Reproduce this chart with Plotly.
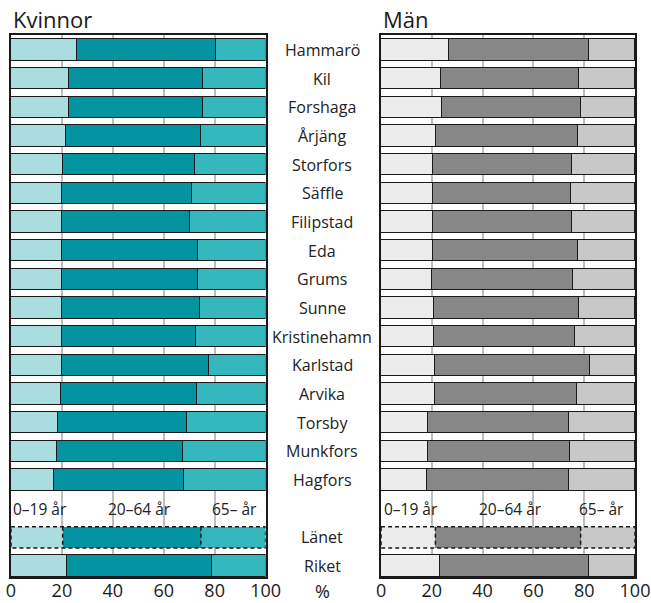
import plotly.graph_objects as go

# ---------------- data ----------------
categories = ["Hammarö", "Kil", "Forshaga", "Årjäng", "Storfors", "Säffle", "Filipstad",
              "Eda", "Grums", "Sunne", "Kristinehamn", "Karlstad", "Arvika", "Torsby",
              "Munkfors", "Hagfors", "Länet", "Riket"]
age_groups = ["0–19 år", "20–64 år", "65– år"]

# cumulative boundaries (share 0–19, share up to 64)
kv_0_19 = [26.0, 22.8, 22.6, 21.5, 20.3, 20.2, 20.2, 20.1, 20.1, 19.9, 19.9, 19.9, 19.7,
           18.5, 18.2, 16.9, 20.3, 22.0]
kv_upto64 = [80.4, 75.5, 75.3, 74.5, 72.1, 71.2, 70.4, 73.4, 73.3, 74.4, 72.8, 77.9, 73.1,
             69.1, 67.7, 68.1, 74.6, 78.8]
man_0_19 = [26.8, 23.8, 24.2, 21.8, 20.6, 20.4, 20.5, 20.3, 20.1, 20.7, 20.9, 21.4, 21.4,
            18.4, 18.4, 18.0, 21.4, 23.3]
man_upto64 = [82.0, 78.0, 78.7, 77.7, 75.1, 74.9, 75.2, 77.7, 75.5, 78.0, 76.4, 82.2, 77.3,
              74.0, 74.4, 74.1, 78.6, 82.0]

tick_vals = [0, 20, 40, 60, 80, 100]

# ---------------- styling ----------------
FONT = "Open Sans"
kv_colors = ["#aadde0", "#0494a1", "#34b8bd"]
man_colors = ["#ececec", "#878787", "#c8c8c8"]
BAR_W = 0.74
# row positions: municipalities 0..15, legend row 16, Länet 17, Riket 18
rows = list(range(16)) + [17, 18]
lanet_idx = categories.index("Länet")

fig = go.Figure()


def add_panel(lo, mid, colors, xa, ya):
    young = lo
    work = [m - l for m, l in zip(mid, lo)]
    old = [100 - m for m in mid]
    lw = [1.5] * len(categories)
    lw[lanet_idx] = 0
    for name, vals, col in zip(age_groups, [young, work, old], colors):
        fig.add_trace(go.Bar(
            y=rows, x=vals, orientation="h", name=name, width=BAR_W,
            marker=dict(color=col, line=dict(color="#1a1a1a", width=lw)),
            xaxis=xa, yaxis=ya, showlegend=False, hoverinfo="skip"))
    # dashed outline for Länet
    yc = rows[lanet_idx]
    y0, y1 = yc - BAR_W / 2, yc + BAR_W / 2
    xs = [0, 100, 100, 0, 0, None, lo[lanet_idx], lo[lanet_idx], None,
          mid[lanet_idx], mid[lanet_idx]]
    ys = [y0, y0, y1, y1, y0, None, y0, y1, None, y0, y1]
    fig.add_trace(go.Scatter(x=xs, y=ys, mode="lines", xaxis=xa, yaxis=ya,
                             line=dict(color="#1a1a1a", width=1.5, dash="4px,3px"),
                             showlegend=False, hoverinfo="skip", cliponaxis=False))


add_panel(kv_0_19, kv_upto64, kv_colors, "x", "y")
add_panel(man_0_19, man_upto64, man_colors, "x2", "y2")

axis_common = dict(range=[0, 100], tickvals=tick_vals, showgrid=True,
                   gridcolor="#bdbdbd", gridwidth=1.5, zeroline=False,
                   showline=True, mirror=True, linecolor="#1a1a1a", linewidth=2,
                   ticks="", tickfont=dict(family=FONT, size=18, color="#1a1a1a"),
                   ticklabeloverflow="allow", ticklabelstandoff=-4,
                   fixedrange=True, automargin=False, layer="below traces")
yaxis_common = dict(range=[18.38, -0.52], showticklabels=False, showgrid=False,
                    zeroline=False, showline=True, mirror=True, linecolor="#1a1a1a",
                    linewidth=2, ticks="", fixedrange=True, automargin=False)

fig.update_layout(
    width=651, height=603,
    margin=dict(l=11, r=16, t=35, b=26, autoexpand=False),
    paper_bgcolor="white", plot_bgcolor="white",
    barmode="stack", bargap=0,
    xaxis=dict(domain=[0, 0.408], **axis_common),
    xaxis2=dict(domain=[0.593, 1], anchor="y2", **axis_common),
    yaxis=dict(anchor="x", **yaxis_common),
    yaxis2=dict(anchor="x2", **yaxis_common),
    font=dict(family=FONT, color="#1a1a1a"),
)

# dark reference line at 20 in the Män panel
fig.add_shape(type="line", xref="x2", yref="y2 domain", x0=20, x1=20, y0=0, y1=1,
              line=dict(color="#1a1a1a", width=1.5), layer="below")

# panel titles
for txt, xr in [("Kvinnor", "x domain"), ("Män", "x2 domain")]:
    fig.add_annotation(text=txt, xref=xr, yref="paper", x=0, y=1.03,
                       xanchor="left", yanchor="middle", showarrow=False,
                       font=dict(family=FONT, size=22, color="#1a1a1a"))

# category labels in the middle
mid_x = (322 - 11) / 624
for cat, r in zip(categories, rows):
    fig.add_annotation(text=cat, xref="paper", yref="y", x=mid_x, y=r,
                       xanchor="center", yanchor="middle", showarrow=False,
                       font=dict(family=FONT, size=16, color="#222222"))

# "%" unit label
fig.add_annotation(text="%", xref="paper", yref="paper", x=mid_x, y=-0.026,
                   xanchor="center", yanchor="middle", showarrow=False,
                   font=dict(family=FONT, size=18, color="#1a1a1a"))

# age group legend labels in the legend row
legend_pos_kv = [11.5, 50.3, 87.6]
legend_pos_man = [11.8, 50.8, 86.9]
for xa, ya, pos in [("x", "y", legend_pos_kv), ("x2", "y2", legend_pos_man)]:
    for name, p in zip(age_groups, pos):
        fig.add_annotation(text=name, xref=xa, yref=ya, x=p, y=16,
                           xanchor="center", yanchor="middle", showarrow=False,
                           font=dict(family=FONT, size=15.5, color="#222222"))

fig.write_html("out.html", config={"displayModeBar": False},
               post_script="document.body.style.margin='0';document.body.style.overflow='hidden';")
